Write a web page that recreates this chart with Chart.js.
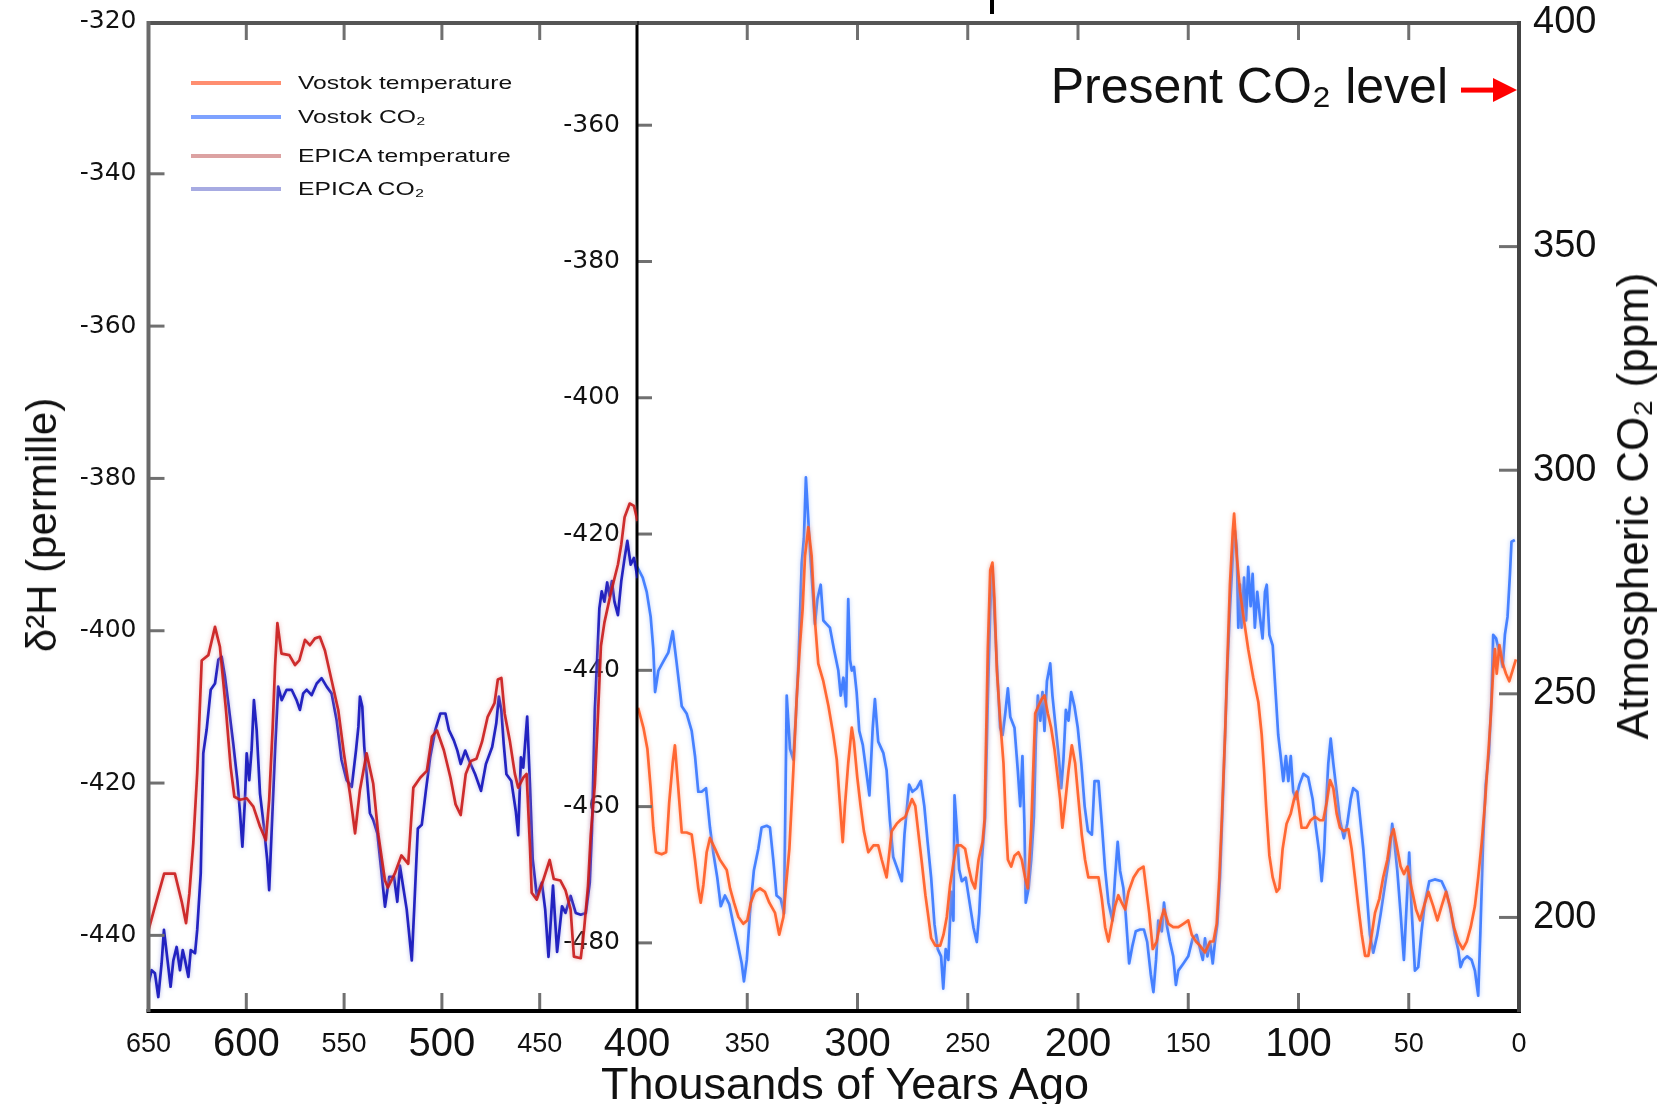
<!DOCTYPE html>
<html>
<head>
<meta charset="utf-8">
<title>Vostok / EPICA</title>
<script src="https://cdn.jsdelivr.net/npm/chart.js@4.4.1/dist/chart.umd.min.js"></script>
<style>
  html, body { margin: 0; padding: 0; background: #fff; }
  #wrap { position: relative; width: 1663px; height: 1104px; overflow: hidden; font-family: "Liberation Sans", Arial, sans-serif; color: #111; }
  canvas { position: absolute; top: 0; }
  #graficoVostok { left: 540px; }
  #graficoEpica { left: 0; }
  .titulo { position: absolute; white-space: nowrap; line-height: 1; transform: translate(-50%, -50%); }
  .vertical { transform: translate(-50%, -50%) rotate(-90deg); }
  #leyenda { position: absolute; left: 191px; top: 0; }
  .fila { position: absolute; left: 0; height: 0; }
  .linea { position: absolute; left: 0; width: 90px; height: 4px; top: -2px; }
  .txt { position: absolute; left: 107px; top: -11px; font-size: 19px; line-height: 22px; white-space: nowrap; transform: scaleX(1.3); transform-origin: left center; }
  #marca { position: absolute; left: 990px; top: 0; width: 4px; height: 14px; background: #000; }
</style>
</head>
<body>
<div id="wrap">
  <canvas id="graficoVostok" width="1123" height="1104"></canvas>
  <canvas id="graficoEpica" width="640" height="1104"></canvas>
  <div id="marca"></div>
  <div id="leyenda"></div>
  <div class="titulo vertical" style="left:42px;top:525px;font-size:42px;">δ²H (permille)</div>
  <div class="titulo vertical" style="left:1633px;top:506px;font-size:44px;">Atmospheric CO₂ (ppm)</div>
  <div class="titulo" style="left:845px;top:1083px;font-size:45px;">Thousands of Years Ago</div>
</div>
<script>
// EPICA, 650 - 400 thousand years ago
const epicaTempAge = [
  650, 646.7, 642, 636.5, 633, 630.8, 629.1, 627.1, 625.1, 622.8,
  619.4, 616, 613.5, 610.4, 608, 606.1, 603.2, 599.8, 596.4, 593,
  590, 588.3, 586.5, 585.3, 584.1, 582, 578, 575.1, 572.9, 570,
  567.5, 564.9, 562.4, 559.8, 556.4, 553, 550.1, 547, 544.4, 541.9,
  538.5, 535.1, 532.6, 529.1, 527.6, 524.1, 520.7, 517.2, 514.6, 511.1,
  507.7, 505.1, 502.5, 499, 495.6, 493, 490.4, 487.8, 485.2, 482.3,
  479.5, 476.6, 473.1, 471.4, 469.6, 467.9, 465.3, 462.7, 461, 458.4,
  456.7, 455, 454.1, 451.5, 448, 444.9, 442.8, 439.4, 436.8, 434.2,
  432.5, 429, 427.3, 425.3, 423.9, 421.8, 420.4, 418.7, 416.9, 413.5,
  410, 408.3, 406.6, 404, 401.8, 400
];
const epicaTemp = [
  -439.3, -436.2, -431.9, -431.9, -435.6, -438.4, -434.5, -427.9, -418.7, -403.9,
  -403.2, -399.5, -402.1, -410.4, -417.9, -421.8, -422.2, -422, -423.1, -425.7,
  -427.5, -422.2, -412.6, -404.7, -399, -403, -403.2, -404.5, -403.9, -401.2,
  -401.9, -401, -400.8, -402.6, -406.5, -410.4, -416.1, -421.4, -426.6, -420.9,
  -416.1, -420.1, -426.6, -432.8, -433.7, -431.9, -429.5, -430.6, -420.6, -419.3,
  -418.4, -413.9, -413.1, -415.7, -419.3, -422.8, -424.2, -418.8, -417.1, -416.8,
  -414.6, -411.3, -409.5, -406.4, -406.2, -410.9, -414.4, -418.8, -420.6, -419.3,
  -418.8, -428.2, -434.4, -435.3, -432.6, -430.1, -432.6, -432.8, -434.1, -436.6,
  -442.8, -443, -439.2, -433.5, -426.8, -420.2, -412.2, -402, -398.9, -394.9,
  -391.3, -388.7, -385.1, -383.3, -383.6, -385.6
];
const epicaCo2Age = [
  650, 648.4, 646.7, 645, 643.3, 642.1, 640.7, 638.7, 637.3, 635.6,
  633.9, 632.5, 631.3, 629.6, 628.4, 626.2, 625.1, 623.3, 622, 620.3,
  618.2, 616, 614.3, 612.6, 610.9, 609.2, 606.7, 604.6, 603.2, 602,
  600.7, 599.8, 598.5, 597.3, 596.1, 594.7, 593, 591, 589.3, 588.3,
  587.1, 585.3, 583.7, 581.9, 579.4, 576.8, 574.3, 572.6, 570.9, 569.1,
  566.6, 564, 561.5, 558.9, 556.4, 553.8, 551.3, 548.7, 546.1, 543.9,
  542.7, 541.9, 540.7, 539.7, 538.5, 536.8, 535.1, 533, 530.8, 529.1,
  526.9, 524.5, 522.8, 521.5, 518, 515.4, 514.1, 512.3, 510.3, 508.2,
  506, 503.4, 500.8, 498.2, 496.4, 493.9, 492.1, 490.4, 488.1, 486.1,
  483, 480, 477.5, 474.3, 472.2, 470.9, 469.6, 468.4, 467, 464.5,
  462.2, 461, 459.6, 458.4, 456.4, 455, 453.6, 451.5, 448.9, 447.2,
  445.5, 443.2, 441.1, 438.6, 436.8, 434.2, 431.6, 429, 426.4, 424.4,
  423.3, 421.8, 420.4, 419.5, 418.3, 416.9, 415.5, 414.3, 413.1, 411.8,
  410, 408.3, 406.6, 405.2, 403.5, 401.8, 400
];
const epicaCo2 = [
  185.2, 188.2, 187.5, 182.2, 189.7, 197.2, 192, 184.5, 190.4, 193.4,
  188.2, 192.7, 190.4, 186.7, 192.7, 192, 197.2, 209.8, 236.7, 241.9,
  250.9, 252.3, 257.6, 258.3, 253.8, 247.9, 238.9, 230.7, 223.3, 215.8,
  226.2, 236.7, 230.7, 237.4, 248.6, 241.9, 227.7, 220.3, 212.8, 206.1,
  218.8, 237.4, 251.6, 248.6, 250.9, 250.9, 248.6, 246.4, 250.1, 250.9,
  249.7, 252.3, 253.5, 251.6, 250.1, 244.1, 235.2, 230.7, 229.2, 237.4,
  242.6, 249.4, 247.1, 238.2, 232.2, 223.3, 221.8, 218.8, 209.8, 202.4,
  209.1, 209.1, 203.5, 211.6, 201.8, 190.4, 202.5, 219.9, 220.7, 228.3,
  235.8, 241.9, 245.6, 245.6, 241.9, 239.6, 237.3, 234.3, 237.3, 235.1,
  232, 228.3, 234.3, 238.1, 243.4, 249.4, 246.4, 238.8, 232, 230.5,
  223.7, 218.4, 235.8, 233.5, 244.9, 229.8, 213.1, 204.8, 207.8, 201.8,
  191.2, 207.1, 192.3, 202.5, 201, 204.8, 201, 200.6, 201, 207.8,
  219.2, 246.4, 260, 269.1, 272.9, 270.6, 274.9, 271.9, 275.2, 270.6,
  267.6, 275.2, 280.4, 284.2, 278.9, 280.4, 275.9
];

// Vostok, 400 - 0 thousand years ago
const vostokTempAge = [
  399.5, 397.1, 395.3, 393.8, 392.6, 391.4, 388.8, 386.8, 385.4, 383.8,
  382.8, 379.7, 377.5, 375.2, 373.7, 372.2, 371.1, 369.9, 368.4, 366.9,
  364.6, 362.4, 359.3, 357.8, 356, 354, 351.8, 350, 348.4, 346.5,
  344.2, 342, 340, 337.4, 335.5, 333.6, 332.4, 330.9, 329.1, 327.6,
  326.1, 324.9, 323.8, 322.3, 320.8, 319.3, 317.8, 315.5, 313.2, 311,
  309.4, 307.9, 306.7, 305.7, 304.2, 302.6, 301.6, 300.1, 298.6, 297.1,
  295.1, 292.8, 290.6, 289, 286.8, 284.5, 282.2, 280.6, 278.3, 275.3,
  273.8, 272.3, 270.8, 269.2, 268.1, 266.6, 264.7, 262.5, 261, 259.5,
  258, 256.5, 255, 253, 251.2, 249.7, 248.2, 246.7, 245.1, 243.3,
  242.4, 241.8, 240.9, 239.8, 238.8, 237.9, 236.8, 235.3, 233.8, 232.7,
  231.8, 230.3, 228.8, 227, 225.5, 224, 222.8, 221.2, 220.2, 219.4,
  217.9, 216.4, 215.2, 213.7, 212.2, 210.7, 209.2, 208.1, 207.1, 205.8,
  204.3, 202.8, 201.3, 199.8, 198.3, 196.8, 195.3, 193, 190.7, 189.2,
  187.7, 186.2, 184.7, 183.2, 181.7, 180.2, 178.6, 177.1, 174.8, 172.6,
  170.3, 167.7, 166.1, 164.3, 162.5, 161, 159, 156.8, 154.5, 152.2,
  150, 148.4, 146.5, 144.7, 142.4, 140.1, 138.6, 137.1, 135.9, 134.8,
  133.3, 132.3, 131.1, 129.8, 129.2, 128, 126.5, 124.7, 122.8, 120.5,
  118.2, 116.7, 115.6, 114.7, 113.2, 111.7, 109.9, 108.7, 107.2, 105.4,
  103.5, 102, 100.8, 98.6, 96.3, 94.5, 92.5, 90.3, 88.8, 87.2,
  85.7, 84.2, 82.7, 81.2, 79.4, 77.4, 75.9, 74.4, 72.9, 71.3,
  69.8, 68.3, 66.8, 65.3, 63.3, 61.6, 59.7, 58.2, 56.9, 55.2,
  53.7, 52.2, 50.6, 48.7, 46.7, 44.9, 43.1, 41.1, 38.9, 37,
  35.1, 33.1, 31.3, 29.5, 27.5, 25.5, 23.7, 21.9, 20, 18.5,
  16.9, 15.4, 13.9, 12.8, 11.7, 10.9, 10.1, 8.9, 7.4, 5.9,
  4.4, 2.9, 1.4
];
const vostokTemp = [
  -445.5, -448.4, -451.5, -457.3, -463.1, -466.7, -467, -466.7, -459.4, -453.6,
  -451, -463.8, -463.8, -464.1, -467.8, -472, -474.1, -471.5, -466.7, -464.6,
  -466.2, -467.8, -469.3, -472, -474.1, -476.2, -477.2, -476.7, -474.1, -472.5,
  -472, -472.5, -474.1, -475.6, -478.8, -476.2, -471.5, -466.2, -454.7, -444.2,
  -436.3, -431.1, -423.2, -419, -423.2, -432.7, -439, -441.6, -445.2, -449.4,
  -453.1, -459.9, -465.2, -459.9, -453.6, -448.4, -450.5, -455.7, -459.9, -463.6,
  -466.7, -465.7, -465.7, -467.8, -470.4, -463.6, -462.5, -462, -461.5, -458.9,
  -459.9, -464.1, -468.3, -473, -475.6, -479.3, -480.4, -480.4, -478.8, -476.2,
  -471.5, -468.3, -465.7, -465.7, -466.2, -468.8, -470.9, -472, -467.8, -465.2,
  -462, -452.1, -436.9, -425.3, -424.2, -429.5, -440, -447.3, -453.6, -462.5,
  -467.8, -468.8, -467.2, -466.7, -467.8, -470.4, -472, -463.1, -453.6, -446.3,
  -445.2, -444.2, -443.7, -446.3, -448.4, -451.5, -455.7, -458.9, -463.1, -459.4,
  -454.7, -451, -453.6, -458.9, -464.1, -467.8, -470.4, -470.4, -470.4, -473.5,
  -477.7, -479.8, -477.2, -474.6, -473, -474.1, -475.1, -472.5, -470.4, -469.3,
  -468.8, -475.6, -480.9, -479.8, -476.7, -475.1, -477.2, -477.7, -477.7, -477.2,
  -476.7, -478.8, -479.8, -480.4, -481.4, -479.8, -479.8, -477.2, -470.4, -462,
  -449.4, -439, -427.4, -419.6, -417, -423.2, -428.5, -432.7, -436.9, -441.1,
  -444.7, -449.4, -454.7, -459.9, -467.2, -470.4, -472.5, -472, -466.2, -462.5,
  -461, -458.9, -457.8, -463.1, -463.1, -462, -461.5, -462, -462, -459.4,
  -456.1, -457.3, -461, -463.1, -463.6, -463.3, -466.2, -470.4, -474.6, -478.8,
  -481.9, -481.9, -478.8, -475.6, -473.5, -470.4, -467.8, -464.5, -463.3, -466.2,
  -468.8, -469.9, -468.8, -472, -475.1, -476.7, -474.6, -472.5, -474.6, -476.7,
  -474.6, -472.5, -474.6, -477.7, -479.8, -480.9, -479.8, -477.7, -474.6, -470.4,
  -465.2, -459.4, -452.1, -446.8, -440, -436.9, -440.5, -436.3, -439, -440.5,
  -441.6, -440, -438.4
];
const vostokCo2Age = [
  399.9, 397.4, 395.6, 393.8, 392.6, 391.8, 390.3, 388.1, 385.8, 383.8,
  382, 379.7, 377.5, 375.2, 373.7, 372.2, 370.7, 368.7, 366.9, 365.4,
  363.6, 362, 360.1, 358.1, 356.3, 354.5, 352.5, 351.5, 350.2, 348.8,
  347, 345, 343.5, 341.2, 339.7, 338.2, 336.7, 334.8, 333.3, 332.1,
  330.6, 329.1, 327.9, 326.8, 325.3, 324.3, 323.4, 322.3, 321.5, 320.3,
  319.3, 318.2, 316.7, 315.5, 314, 312.5, 310.7, 308.7, 307.6, 306.4,
  305.2, 304.2, 303.4, 302.6, 301.6, 300.4, 299.2, 297.6, 296.1, 294.6,
  293.1, 292.1, 290.6, 288.3, 286.8, 285.3, 283.8, 282.2, 279.9, 278.7,
  276.6, 275.1, 273.1, 271.3, 269.7, 268.2, 266.6, 265.1, 263.6, 262.1,
  261.1, 260, 258.8, 257.5, 256.5, 256, 255, 253.9, 252.7, 250.9,
  249.4, 247.4, 245.9, 244.8, 243.6, 242.1, 240.9, 239.8, 238.8, 237.9,
  236.8, 235.3, 234.2, 233, 231.8, 230.7, 228.8, 227.3, 226.2, 225.2,
  224.3, 223.7, 222.4, 221.2, 220, 219.1, 218.2, 217.1, 216.1, 215.2,
  214.1, 212.6, 211.6, 210.3, 208.8, 207.6, 206.6, 205.5, 204.3, 203.1,
  201.6, 200.1, 198.5, 197, 195.5, 193.7, 192.5, 190.7, 189.2, 187.7,
  186.2, 184.4, 183.2, 182, 180.9, 179.4, 178.4, 176.8, 175.3, 173.8,
  171.8, 170.1, 168.6, 167, 165.8, 164.6, 163.6, 162, 161, 159.8,
  158.3, 156.8, 155.6, 154.5, 152.2, 150, 148, 146.2, 144.6, 143.4,
  142.4, 141.3, 140.1, 138.9, 137.9, 136.8, 135.6, 134.4, 133.3, 132.3,
  131.1, 129.8, 128.8, 128, 127.3, 126.5, 125.8, 124.7, 123.8, 122.8,
  121.7, 120.8, 119.8, 118.7, 117.5, 116.3, 115.2, 114.4, 113.2, 111.7,
  110.2, 109.2, 108.1, 106.9, 105.7, 104.6, 103.5, 102.4, 101.1, 99.6,
  97.8, 95.6, 93.6, 92.1, 90.6, 89.5, 88.4, 87.5, 86.5, 85.4,
  84.2, 82.7, 81.2, 79.4, 77.9, 76.3, 75.2, 73.3, 72.1, 70.6,
  69.1, 67.6, 66.1, 64.3, 62.7, 60.8, 58.8, 57.5, 56.5, 55.2,
  53.7, 52.2, 51, 49.8, 48.6, 47.2, 45.7, 44.2, 42.7, 40.7,
  38.2, 35.1, 32.9, 31.1, 29.1, 27.6, 26.5, 25.3, 23.5, 21.5,
  20, 18.5, 17.5, 16.3, 15.1, 13.6, 12.5, 11.7, 10.4, 8.9,
  7.4, 6.4, 5.2, 4.1, 3.4, 1.9
];
const vostokCo2 = [
  278.4, 276, 272.8, 267.2, 260, 250.4, 255.2, 257.2, 259.2, 264,
  256.8, 247.2, 245.6, 241.7, 236.1, 228.1, 228.1, 228.9, 220.1, 214.5,
  208.9, 202.5, 204.9, 202.9, 198.5, 194.5, 189.7, 185.7, 190.5, 200.9,
  210.5, 215.3, 220.1, 220.5, 220.1, 212.9, 204.9, 204.1, 200.9, 249.6,
  237.7, 235.3, 245.6, 256.8, 279.2, 284.8, 298.4, 288.8, 281.6, 272.8,
  265.6, 271.2, 274.4, 266.4, 265.6, 264.8, 260, 255.2, 249.6, 253.6,
  247.2, 271.2, 257.6, 255.2, 256, 250.4, 241.7, 238.6, 232.9, 227.3,
  242.4, 248.8, 239.3, 236.8, 232.9, 221.7, 213.5, 211.3, 208.1, 218.5,
  229.7, 228.1, 228.9, 230.5, 224.9, 216.9, 208.9, 198.5, 192.9, 191.3,
  184.1, 192.9, 190.5, 205.7, 199.3, 227.3, 220.1, 210.7, 208.1, 208.9,
  204.1, 197.7, 194.5, 200.9, 212.9, 222.5, 248.8, 268.8, 278.4, 268,
  256.8, 242.4, 240.8, 245.6, 251.2, 244.8, 242.4, 232.9, 224.9, 236.1,
  220.9, 203.3, 206.5, 212.9, 222.5, 240, 249.6, 244, 250.4, 241.7,
  252.8, 256.8, 249.6, 243.3, 236.1, 228.9, 235.3, 246.4, 244, 250.4,
  247.2, 242.4, 234.4, 224.9, 219.3, 218.5, 230.5, 230.5, 220.9, 210.7,
  203.3, 199.3, 208.9, 216.9, 210.4, 206.5, 200.9, 189.7, 193.7, 196.9,
  197.3, 197.3, 194.5, 187.3, 183.3, 190.5, 199.3, 196.9, 203.3, 198.5,
  194.5, 191.3, 184.9, 188.1, 189.7, 191.3, 195.3, 196.1, 192.9, 190.5,
  195.3, 191.3, 194.5, 189.7, 194.5, 198.5, 208.9, 224.9, 240.8, 255.2,
  268.8, 280.8, 286.4, 282.4, 264.8, 274.4, 264.8, 276, 266.4, 278.4,
  269.6, 276.8, 264.8, 272.8, 267.2, 262.4, 272.8, 274.4, 263.2, 260.8,
  248.8, 240.8, 236.1, 230.5, 236.1, 230.5, 236.1, 228.1, 226.5, 229.7,
  232.1, 231.3, 226.5, 220.1, 214.5, 208.1, 214.5, 224.9, 234.4, 240,
  234.4, 228.1, 221.7, 217.7, 220.9, 226.5, 228.9, 228.1, 222.5, 215.3,
  205.7, 196.1, 192.1, 196.1, 200.9, 207.3, 213.7, 220.9, 216.9, 210.5,
  200.9, 190.5, 202.5, 214.5, 200.9, 188.1, 188.9, 196.9, 203.3, 208.1,
  208.5, 208.1, 205.7, 201.7, 196.1, 192.9, 188.9, 190.5, 191.3, 190.5,
  188.1, 182.5, 196.9, 216.9, 229.7, 236.8, 248.8, 263.2, 262.4, 259.2,
  256, 263.2, 267.2, 276.8, 284, 284.4
];

// ejes
const ticksAgeLeft = [650, 600, 550, 500, 450, 400];
const ticksAgeRight = [400, 350, 300, 250, 200, 150, 100, 50, 0];
const ticksEpicaTemp = [-320, -340, -360, -380, -400, -420, -440];
const ticksVostokTemp = [-360, -380, -400, -420, -440, -460, -480];
const ticksCo2 = [200, 250, 300, 350, 400];
const presentCo2 = 385;
const seriesNames = ['Vostok temperature', 'Vostok CO₂', 'EPICA temperature', 'EPICA CO₂'];

const colores = {
  vostokTemp: { linea: 'rgba(255,88,30,0.88)', halo: 'rgba(255,170,140,0.9)', leyenda: '#ff8e70' },
  vostokCo2: { linea: 'rgba(45,112,255,0.85)', halo: 'rgba(160,190,255,0.9)', leyenda: '#7ea2ff' },
  epicaTemp: { linea: 'rgba(200,20,20,0.88)', halo: 'rgba(230,160,160,0.9)', leyenda: '#dca2a2' },
  epicaCo2: { linea: 'rgba(10,10,185,0.88)', halo: 'rgba(160,165,230,0.9)', leyenda: '#a7abe2' }
};

function pares(edades, valores) {
  return edades.map((e, i) => ({ x: e, y: valores[i] }));
}

function fuenteEdad(ctx) {
  const v = ctx.tick ? ctx.tick.value : 0;
  const grande = v % 100 === 0 && v !== 0;
  return { family: '"Liberation Sans", Arial, sans-serif', size: grande ? 40 : 27, lineHeight: '46px' };
}

// tamaño fijo de cada eje, sin el relleno extra que Chart.js añade
function ancho(w) {
  return s => { s.width = w; s.paddingTop = 0; s.paddingBottom = 0; };
}
function alto(h) {
  return s => { s.height = h; s.paddingLeft = 0; s.paddingRight = 0; };
}

function linea(ctx, x0, y0, x1, y1) {
  ctx.beginPath();
  ctx.moveTo(x0, y0);
  ctx.lineTo(x1, y1);
  ctx.stroke();
}

/* halo suave alrededor de cada serie */
const halo = {
  id: 'halo',
  beforeDatasetDraw(chart, args) {
    const ds = chart.data.datasets[args.index];
    chart.ctx.shadowColor = ds.halo || 'rgba(0,0,0,0)';
    chart.ctx.shadowBlur = 4;
  },
  afterDatasetDraw(chart) {
    chart.ctx.shadowColor = 'rgba(0,0,0,0)';
    chart.ctx.shadowBlur = 0;
  }
};

/* marco y ticks hacia dentro */
const marco = {
  id: 'marco',
  afterDraw(chart, args, opts) {
    const ctx = chart.ctx, a = chart.chartArea;
    ctx.save();
    ctx.lineWidth = 3;
    ctx.strokeStyle = '#707070';
    const xs = chart.scales.x;
    xs.ticks.forEach(t => {
      const px = xs.getPixelForValue(t.value);
      if (px <= a.left + 3 || px >= a.right - 3) return;
      linea(ctx, px, a.bottom, px, a.bottom - 17);
      linea(ctx, px, a.top, px, a.top + 17);
    });
    (opts.ejes || []).forEach(e => {
      const s = chart.scales[e.id];
      s.ticks.forEach(t => {
        const py = s.getPixelForValue(t.value);
        if (py <= a.top + 3 || py >= a.bottom - 3) return;
        if (e.lado === 'left') linea(ctx, a.left, py, a.left + e.largo, py);
        else linea(ctx, a.right, py, a.right - e.largo, py);
      });
    });
    ctx.lineWidth = 4;
    ctx.strokeStyle = '#555';
    linea(ctx, a.left, a.top, a.right, a.top);
    ctx.strokeStyle = '#000';
    linea(ctx, a.left - 2, a.bottom + 1, a.right + 2, a.bottom + 1);
    if (opts.izquierda) {
      ctx.strokeStyle = opts.izquierda;
      ctx.lineWidth = opts.izquierda === '#000' ? 3 : 4;
      linea(ctx, a.left, a.top - 2, a.left, a.bottom + 2);
    }
    if (opts.derecha) {
      ctx.strokeStyle = opts.derecha;
      ctx.lineWidth = 4;
      linea(ctx, a.right, a.top - 2, a.right, a.bottom + 2);
    }
    ctx.restore();
  }
};

/* flecha del nivel actual de CO2 */
const nivelActual = {
  id: 'nivelActual',
  afterDraw(chart) {
    const ctx = chart.ctx, a = chart.chartArea;
    const y = chart.scales.yCo2.getPixelForValue(presentCo2);
    ctx.save();
    ctx.fillStyle = '#111';
    ctx.font = '50px "Liberation Sans", Arial, sans-serif';
    ctx.textAlign = 'right';
    ctx.textBaseline = 'middle';
    ctx.fillText('Present CO₂ level', a.right - 71, y - 1);
    ctx.fillStyle = '#ff0000';
    ctx.fillRect(a.right - 58, y - 2.5, 34, 5);
    ctx.beginPath();
    ctx.moveTo(a.right - 26, y - 12);
    ctx.lineTo(a.right - 2, y);
    ctx.lineTo(a.right - 26, y + 12);
    ctx.closePath();
    ctx.fill();
    ctx.restore();
  }
};

const fuenteY = { family: '"DejaVu Sans", sans-serif', size: 25 };
const sinRejilla = { display: false, drawTicks: false };

/* VOSTOK (derecha) */
const chartVostok = new Chart(document.getElementById('graficoVostok'), {
  type: 'line',
  data: {
    datasets: [{
      label: seriesNames[0],
      data: pares(vostokTempAge, vostokTemp),
      yAxisID: 'yTemp',
      borderColor: colores.vostokTemp.linea,
      halo: colores.vostokTemp.halo
    }, {
      label: seriesNames[1],
      data: pares(vostokCo2Age, vostokCo2),
      yAxisID: 'yCo2',
      borderColor: colores.vostokCo2.linea,
      halo: colores.vostokCo2.halo
    }]
  },
  options: {
    responsive: false,
    animation: false,
    layout: { padding: { top: 23, left: 0, right: 0, bottom: 0 } },
    elements: {
      point: { radius: 0 },
      line: { borderWidth: 2.7, tension: 0, borderJoinStyle: 'round', fill: false }
    },
    plugins: {
      legend: { display: false },
      tooltip: { enabled: false },
      marco: {
        izquierda: '#000',
        derecha: '#444',
        ejes: [{ id: 'yTemp', lado: 'left', largo: 15 }, { id: 'yCo2', lado: 'right', largo: 20 }]
      }
    },
    scales: {
      x: {
        type: 'linear', reverse: true, min: 0, max: 400,
        afterBuildTicks: s => { s.ticks = ticksAgeRight.map(v => ({ value: v })); },
        afterFit: alto(94),
        grid: sinRejilla, border: { display: false },
        ticks: { autoSkip: false, maxRotation: 0, minRotation: 0, padding: 12, color: '#111', font: fuenteEdad, callback: v => v }
      },
      yTemp: {
        type: 'linear', position: 'left', min: -489.85, max: -345,
        afterBuildTicks: s => { s.ticks = ticksVostokTemp.map(v => ({ value: v })); },
        afterFit: ancho(97),
        grid: sinRejilla, border: { display: false },
        ticks: { padding: 17, color: '#111', font: fuenteY, callback: v => String(v) }
      },
      yCo2: {
        type: 'linear', position: 'right', min: 179.3, max: 400,
        afterBuildTicks: s => { s.ticks = ticksCo2.map(v => ({ value: v })); },
        afterFit: ancho(144),
        grid: sinRejilla, border: { display: false },
        ticks: { padding: 14, color: '#111', font: { family: '"Liberation Sans", Arial, sans-serif', size: 38 }, callback: v => String(v) }
      }
    }
  },
  plugins: [halo, marco, nivelActual]
});

/* EPICA (izquierda) */
const chartEpica = new Chart(document.getElementById('graficoEpica'), {
  type: 'line',
  data: {
    datasets: [{
      label: seriesNames[2],
      data: pares(epicaTempAge, epicaTemp),
      yAxisID: 'yTemp',
      borderColor: colores.epicaTemp.linea,
      halo: colores.epicaTemp.halo
    }, {
      label: seriesNames[3],
      data: pares(epicaCo2Age, epicaCo2),
      yAxisID: 'yCo2',
      borderColor: colores.epicaCo2.linea,
      halo: colores.epicaCo2.halo
    }]
  },
  options: {
    responsive: false,
    animation: false,
    layout: { padding: { top: 23, left: 0, right: 2.5, bottom: 0 } },
    elements: {
      point: { radius: 0 },
      line: { borderWidth: 2.7, tension: 0, borderJoinStyle: 'round', fill: false }
    },
    plugins: {
      legend: { display: false },
      tooltip: { enabled: false },
      marco: {
        izquierda: '#6a6a6a',
        ejes: [{ id: 'yTemp', lado: 'left', largo: 16 }]
      }
    },
    scales: {
      x: {
        type: 'linear', reverse: true, min: 400, max: 650,
        afterBuildTicks: s => { s.ticks = ticksAgeLeft.map(v => ({ value: v })); },
        afterFit: alto(94),
        grid: sinRejilla, border: { display: false },
        ticks: { autoSkip: false, maxRotation: 0, minRotation: 0, padding: 12, color: '#111', font: fuenteEdad,
                 callback: v => v === 400 ? '' : v }
      },
      yTemp: {
        type: 'linear', position: 'left', min: -449.8, max: -320.2,
        afterBuildTicks: s => { s.ticks = ticksEpicaTemp.map(v => ({ value: v })); },
        afterFit: ancho(148.5),
        grid: sinRejilla, border: { display: false },
        ticks: { padding: 12, color: '#111', font: fuenteY, callback: v => String(v) }
      },
      yCo2: { type: 'linear', display: false, min: 179.3, max: 400 }
    }
  },
  plugins: [halo, marco]
});

/* LEYENDA */
const leyendaY = [83, 117, 156, 189];
const leyendaColor = [colores.vostokTemp.leyenda, colores.vostokCo2.leyenda, colores.epicaTemp.leyenda, colores.epicaCo2.leyenda];
const leyenda = document.getElementById('leyenda');
seriesNames.forEach((nombre, i) => {
  const fila = document.createElement('div');
  fila.className = 'fila';
  fila.style.top = leyendaY[i] + 'px';
  fila.innerHTML = '<span class="linea" style="background:' + leyendaColor[i] + '"></span><span class="txt">' + nombre + '</span>';
  leyenda.appendChild(fila);
});
</script>
</body>
</html>
